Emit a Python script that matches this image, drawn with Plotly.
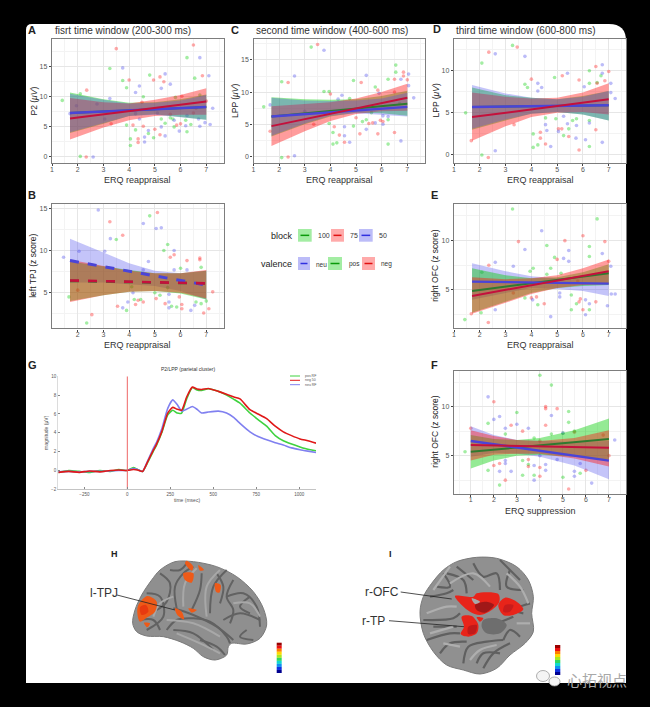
import plotly.graph_objects as go

W, H = 650, 707
REAPP_LINE = [1.7, 7.0]
REAPP_BAND = [1.7, 3, 4, 5, 6, 7]
SUPP_LINE = [1.0, 7.0]
SUPP_BAND = [1, 2, 3, 4, 5.5, 7]

# ---------- scatter values ----------
A_green = [(1.4,9.3),(2.1,0),(2.1,10.4),(3.25,14.6),(3.75,12.6),(3.9,11.4),(3.9,5.2),(4.05,2.9),(4.05,1.8),(4.25,4.4),(4.55,9.9),(4.8,13.5),(4.75,3.8),(4.95,3.1),(5.4,5.5),(5.25,6.2),(5.6,6.4),(5.75,4.9),(5.8,9.8),(6.25,16.4),(6.25,4.1),(6.4,5.3),(6.55,13),(6.75,10.2),(6.2,6),(5.7,6.2)]
A_red = [(2.35,11),(2.33,-0.1),(3.5,17.9),(3.3,5.4),(4.0,12.7),(4.15,5.2),(4.35,2.9),(4.35,2.3),(4.55,5),(5.0,4.5),(5.2,3.6),(5.2,13.2),(5.35,12.4),(4.95,12.7),(5.85,5.2),(6.0,5.4),(6.05,10),(6.5,18.5),(6.85,13.4),(6.5,7.2),(4.5,9),(5.6,7),(7,9.2),(6.6,8)]
A_blue = [(1.7,7.1),(1.95,8.4),(2.6,-0.1),(2.75,8.7),(3.25,9.6),(3.75,14.7),(3.05,6.2),(4.25,10.6),(4.4,11.7),(4.25,7.1),(4.4,6.2),(4.6,3.2),(4.6,2.4),(4.75,4.3),(5.1,7.2),(5.25,11.3),(5.4,13.7),(5.6,12),(5.25,4.9),(5.4,3.4),(5.75,6),(5.95,4.2),(6.25,6.8),(6.7,6.2),(6.75,5),(6.75,16.4),(7.1,13.4),(6.95,5.6),(7.15,5.3),(7.25,8),(6.2,5.1)]

C_green = [(1.4,7.7),(2.1,-0.2),(2.1,11.6),(3.25,17),(3.75,10.1),(3.95,10.1),(3.95,5.1),(4.1,1.9),(4.1,3.7),(4.25,2.1),(4.75,9),(4.9,4.7),(4.9,11.8),(5.25,5.4),(5.4,5.7),(5.6,6.8),(5.75,10.8),(6.25,1.9),(6.25,5.7),(6.25,12),(6.55,13.1),(6.55,14.2),(6.7,8.2)]
C_red = [(1.65,3.9),(2.35,-0.1),(2.35,11.5),(3.5,17.4),(3.35,5),(4.0,9.7),(4.15,4.6),(4.35,3.3),(4.55,2.2),(5,6),(5.15,3.5),(5.2,11.5),(5.5,5.1),(5.65,5.2),(5.85,3.5),(5.85,10.3),(5.95,5.6),(6.05,5.4),(6.5,3.7),(6.5,12),(6.85,12.5),(6.85,13.1),(7,11.9),(6.5,10)]
C_blue = [(1.65,8),(2.6,0.1),(2.6,12.5),(3.75,16.5),(4.3,8.9),(4.45,9.5),(4.55,4.6),(4.55,3.2),(4.75,2.2),(5.4,12.6),(5.4,4.2),(5.75,5.2),(6.05,6.3),(6.05,5),(6.25,6.2),(6.75,2.4),(6.75,12),(7.05,12.8),(7.05,11),(7.25,9.1),(3,7),(5.9,9.8)]

D_green = [(1.45,5),(2.08,10.9),(2.08,0),(3.27,13),(3.75,8.4),(3.85,8),(4.07,2.5),(4.07,0.9),(4.25,1.2),(4.55,4.4),(4.9,9.2),(4.95,4.3),(5.25,2.3),(5.45,3.1),(5.6,4.1),(5.75,4.3),(6.25,10),(6.25,8.5),(6.25,1),(6.55,8.6),(6.7,9.4),(6.25,4.1)]
D_red = [(1.67,1.7),(2.35,12.2),(2.33,-0.3),(3.45,12.8),(3.33,3.6),(4.0,9),(4.35,2.7),(4.35,2),(4.55,1.3),(5.05,3.1),(5.18,3.1),(5.2,9.4),(5.45,2.2),(5.85,0.6),(5.85,8.9),(6.5,3),(6.5,10.5),(6.55,8.5),(6.85,8.8),(7,9.9)]
D_blue = [(2.6,12),(2.6,0.5),(3.75,11.7),(4.25,8.5),(4.25,7.6),(4.4,8),(4.55,3.6),(4.6,2.9),(4.75,1),(5.05,2.8),(5.25,4.6),(5.4,9.7),(5.4,3.7),(5.75,3.5),(5.73,2),(6.1,1.8),(6.05,8.1),(6.25,3.8),(6.75,10.7),(6.75,9.7),(6.75,1.5),(7.08,8.5),(7.08,7.4),(7.25,6.7)]

B_green = [(1.66,4.5),(2.35,1.4),(3.5,11.3),(3.9,2.9),(4.2,4.2),(4.45,4.2),(4.8,14.1),(5,5),(5.2,4.7),(5.35,10),(5.5,10.7),(5.65,3.4),(5.85,3.3),(6,7.9),(6.6,3.9),(6.8,8),(7.0,4),(6.8,3.7),(4.1,5.7),(5.5,5.6)]
B_red = [(2.55,2.4),(3.25,13.4),(3.55,3.4),(3.75,11.8),(4.25,3.6),(4.35,4.1),(4.55,3.9),(5.05,4.3),(5.1,14.5),(5.4,3.7),(5.6,9.2),(5.75,9.5),(5.95,4.5),(6.05,3.6),(6.05,3.1),(6.25,8.8),(6.75,9.1),(6.75,8.9),(6.9,2.6),(7.1,3.1),(7.25,5.1),(2,5.3)]
B_blue = [(1.45,9.2),(2.05,9.9),(2.8,14.8),(3.27,11.4),(3.05,9.9),(3.75,3.2),(3.95,3.9),(4.15,5),(4.55,13.2),(4.55,7.7),(4.75,8.7),(5.05,12.6),(5.25,12.7),(5.55,4.8),(5.55,3.9),(5.55,3.2),(5.75,10),(5.75,7.7),(6.25,7.7),(6.4,2.9),(6.55,3.5)]

E_green = [(1.42,2),(2.08,6.8),(2.05,2.7),(3.27,13.2),(3.75,4.2),(3.95,6.9),(4.07,7.2),(4.25,3.5),(4.6,6.6),(4.6,9.5),(4.75,7.2),(4.9,8.3),(5.15,6.7),(5.55,4.5),(5.55,3),(5.75,3.6),(6.25,9.4),(6.25,8.4),(6.25,3),(6.55,12.2)]
E_red = [(1.67,2.6),(2.35,7.5),(2.33,1.7),(3.5,9.9),(3.3,4.7),(4,4.2),(4.2,4.3),(4.5,3.6),(5,8.1),(5.3,10),(5.85,3.8),(5.9,4.1),(6,10.5),(6,3),(6.5,3.8),(6.85,9.9),(7,7.9),(5.8,5.9)]
E_blue = [(2.6,7.8),(2.6,3),(3.3,7.4),(3.75,9.1),(4.05,4),(4.4,11),(4.75,2.3),(5.1,4.7),(5.1,4.3),(5.25,8.2),(5.45,7.9),(5.45,9),(6.1,2.5),(6.1,4),(6.25,3.6),(6.75,8.7),(6.95,3.4),(7.08,7.4),(7.1,4.6),(7.25,4.6)]

F_green = [(0.75,5.4),(1.75,3.5),(1.75,8.3),(2.25,2),(2.5,7.2),(3,9.4),(3.25,4.5),(3.25,3),(3.5,4.1),(3.75,3),(3.75,6.8),(4,13.2),(4.5,12.2),(4.5,7.2),(5,2.8),(5,7.3),(5.25,9.5),(5.25,8.4),(5.75,3.2),(5.5,7.5)]
F_red = [(1,7.8),(2,10.5),(2,4),(2.25,4.2),(2.5,2.5),(2.75,8.1),(3.25,7.5),(3.5,3.9),(3.5,4.6),(4,3.8),(4,2.9),(4,6.5),(4.25,10),(4.25,9.8),(4.25,8.1),(4.75,9.8),(5.25,1.6),(5.5,7.4),(6,3.5),(7,5),(6.75,7.1)]
F_blue = [(1.75,11),(2,8.7),(2.25,9),(2.25,3.4),(2.5,7.8),(2.5,4.5),(2.5,4.2),(2.75,3.4),(3,8.2),(3.5,7.8),(3.75,4),(3.75,2.5),(4,5),(4.25,4.1),(4.25,3.5),(4.5,9.1),(4.75,4.6),(5,7.3),(5.5,3.4),(5.5,2.9),(5.75,4.2),(6.25,2.2),(7.25,6.6)]

# ---------- regression lines (ends) and confidence bands ----------
A_green_line, A_red_line, A_blue_line = [7.2,8.2], [6.3,9.1], [7.2,8.2]
A_green_up, A_green_lo = [10.6,9.5,8.9,9.0,9.5,10.3], [3.9,5.4,6.7,7.0,6.6,6.1]
A_red_up, A_red_lo = [9.7,9.0,8.8,9.4,10.2,11.3], [2.8,4.8,6.0,6.7,6.9,6.9]
A_blue_up, A_blue_lo = [10.4,9.4,8.8,8.9,9.3,10.2], [4.0,5.5,6.7,6.9,6.5,6.1]

C_green_line, C_red_line, C_blue_line = [6.2,8.2], [4.7,9.1], [6.2,7.7]
C_green_up, C_green_lo = [9.2,8.9,8.8,8.9,9.4,10.2], [3.1,5.0,6.2,6.8,6.7,6.3]
C_red_up, C_red_lo = [7.8,8.1,8.4,9.0,10,11.3], [1.6,3.9,5.5,6.6,7.0,7.1]
C_blue_up, C_blue_lo = [9.1,8.7,8.6,8.7,9.0,9.9], [3.2,5.1,6.3,6.7,6.5,6.2]

D_green_line, D_red_line, D_blue_line = [5.7,5.9], [4.5,6.6], [5.7,5.9]
D_green_up, D_green_lo = [8,7.1,6.8,6.6,7.0,7.6], [3.0,4.1,4.9,5.1,4.8,4.1]
D_red_up, D_red_lo = [7.4,6.9,6.7,6.8,7.4,8.5], [1.7,3.4,4.5,5.0,5.1,4.8]
D_blue_up, D_blue_lo = [8.3,7.3,6.8,6.6,6.9,7.6], [3.1,4.2,4.9,5.1,4.8,4.1]

B_green_line, B_red_line, B_blue_line = [6.4,6.1], [6.45,6.1], [8.8,5.9]
B_green_up, B_green_lo = [8.7,8.1,7.7,7.3,7.3,7.6], [4.0,4.7,5.1,5.2,4.9,4.2]
B_red_up, B_red_lo = [8.9,8.2,7.6,7.3,7.3,7.7], [3.9,4.7,5.1,5.2,5.0,4.3]
B_blue_up, B_blue_lo = [11.4,9.8,8.5,7.6,7.3,7.6], [6.2,6.2,6.0,5.8,5.2,4.2]

E_green_line, E_red_line, E_blue_line = [4.9,6.7], [4.4,6.9], [5.85,5.65]
E_green_up, E_green_lo = [7.2,6.5,6.2,6.3,6.8,7.6], [2.7,3.8,4.7,5.2,5.4,5.5]
E_red_up, E_red_lo = [6.3,6.1,6.2,6.5,7.2,8.1], [2.6,3.7,4.6,5.2,5.5,5.6]
E_blue_up, E_blue_lo = [7.7,6.9,6.4,6.2,6.3,6.9], [4.0,4.7,5.2,5.1,4.9,4.4]

F_green_line, F_red_line, F_blue_line = [5.4,6.7], [6.1,5.8], [6.5,4.5]
F_green_up, F_green_lo = [7.1,6.7,6.6,6.8,7.6,8.8], [3.7,4.5,5.0,5.1,4.9,4.6]
F_red_up, F_red_lo = [7.6,7.0,6.6,6.5,6.8,7.6], [4.5,5.1,5.2,5.2,4.7,3.9]
F_blue_up, F_blue_lo = [8.0,7.1,6.6,6.5,6.4,6.5], [4.9,5.3,5.2,4.9,4.0,2.6]

# ---------- ERP curves (panel G) ----------
G_t = [-400,-340,-280,-220,-160,-100,-50,0,35,60,89,120,150,170,200,235,264,290,316,345,378,405,432,471,529,577,620,655,713,760,810,860,907,955,1004,1050,1097]
G_green = [-0.2,-0.02,-0.1,-0.2,0,-0.1,0.1,0,0.3,0.1,-0.1,0.9,2.0,2.7,4.0,5.9,6.4,6.1,6.1,7.6,8.8,8.55,8.5,8.67,8.4,8.0,7.55,7.15,6.1,5.4,4.7,3.7,3.15,2.8,2.5,2.25,2.1]
G_red = [-0.2,-0.1,-0.2,-0.05,-0.15,0,0.05,0,0.1,0.05,-0.1,1.0,2.1,2.8,4.1,6.1,6.7,6.5,6.4,7.8,8.85,8.65,8.6,8.7,8.4,8.1,7.8,7.6,6.45,6.0,5.5,4.7,4.1,3.7,3.35,3.15,2.9]
G_blue = [-0.15,-0.1,-0.15,-0.1,-0.1,-0.05,0,0,0.2,0.1,-0.1,1.1,2.3,3.0,4.4,6.6,7.5,7.0,6.3,6.5,6.8,6.5,6.1,6.2,6.3,6.1,5.6,5.0,4.1,3.6,3.25,2.95,2.7,2.4,2.2,2.05,1.9]

GREEN, RED, BLUE = "0,205,0", "255,20,20", "70,70,235"
BLOCK_LINE = {"g": "#2f7a2f", "r": "#c4103c", "b": "#4a44d8"}
BAND_ALPHA = {GREEN: 0.42, RED: 0.42, BLUE: 0.32}

def xdom(a, b): return [a / W, b / W]
def ydom(a, b): return [1 - b / H, 1 - a / H]
def px(x): return x / W
def py(y): return 1 - y / H

fig = go.Figure()
shapes, annos = [], []
layout = {}

AXIS_TEXT = dict(size=7, color="#555555", family="Liberation Sans")

def text(x, y, s, size=8, color="#222", xa="center", bold=False, fam="Liberation Sans", angle=0):
    annos.append(dict(x=px(x), y=py(y), xref="paper", yref="paper", text=f"<b>{s}</b>" if bold else s, showarrow=False,
                      xanchor=xa, yanchor="middle", textangle=angle, font=dict(size=size, color=color, family=fam)))

def panel(n, box, xr, yr, xticks, yticks, xtitle, ytitle, sets, xband=REAPP_BAND, xline=REAPP_LINE):
    xa, ya = f"x{n}", f"y{n}"
    for pts, col in sets["pts"]:
        fig.add_trace(go.Scatter(x=[p[0] for p in pts], y=[p[1] for p in pts], mode="markers", xaxis=xa, yaxis=ya,
                                 marker=dict(size=3.6, color=f"rgba({col},0.36)"), showlegend=False, hoverinfo="skip"))
    for up, lo, col in sets["bands"]:
        fig.add_trace(go.Scatter(x=list(xband) + list(xband)[::-1], y=list(up) + list(lo)[::-1], mode="lines", xaxis=xa, yaxis=ya,
                                 fill="toself", fillcolor=f"rgba({col},{BAND_ALPHA[col]})", line=dict(width=0),
                                 showlegend=False, hoverinfo="skip"))
    for vals, col, w, d in sets["lines"]:
        fig.add_trace(go.Scatter(x=xline, y=vals, mode="lines", xaxis=xa, yaxis=ya,
                                 line=dict(color=col, width=w, dash=d), showlegend=False, hoverinfo="skip"))
    layout[f"xaxis{n}"] = dict(domain=xdom(box[0], box[1]), range=xr, anchor=ya, tickvals=xticks, ticks="outside", ticklen=2,
                               ticklabelstandoff=-3,
                               tickcolor="#444", tickwidth=1, tickfont=AXIS_TEXT, gridcolor="#e6e6e6", gridwidth=0.8,
                               zeroline=False, showline=True, linecolor="#7d7d7d", linewidth=1.4, mirror=True,
                               minor=dict(showgrid=True, gridcolor="#f3f3f3", gridwidth=0.5, dtick=0.5))
    layout[f"yaxis{n}"] = dict(domain=ydom(box[2], box[3]), range=yr, anchor=xa, tickvals=yticks, ticks="outside", ticklen=2,
                               tickcolor="#444", tickwidth=1, tickfont=AXIS_TEXT, gridcolor="#e6e6e6", gridwidth=0.8,
                               zeroline=False, showline=True, linecolor="#7d7d7d", linewidth=1.4, mirror=True,
                               minor=dict(showgrid=True, gridcolor="#f3f3f3", gridwidth=0.5, dtick=2.5))
    text((box[0] + box[1]) / 2, box[3] + 17, xtitle, 9, "#333")
    text(box[0] - 18.5, (box[2] + box[3]) / 2, ytitle, 8.5, "#222", angle=-90)

def sets3(gp, rp, bp, gu, gl, ru, rl, bu, bl, gline, rline, bline, dash="solid", w=2, blue_first=False):
    g, r, b = (gu, gl, GREEN), (ru, rl, RED), (bu, bl, BLUE)
    return dict(pts=[(gp, GREEN), (rp, RED), (bp, BLUE)],
                bands=[b, g, r] if blue_first else [g, r, b],
                lines=[(gline, BLOCK_LINE["g"], w, dash), (bline, BLOCK_LINE["b"], w + 0.4, dash), (rline, BLOCK_LINE["r"], w, dash)])

ERQ = "ERQ reappraisal"
panel(2, (52, 223.5, 39, 163), [1, 7.67], [-1.1, 19.5], [1,2,3,4,5,6,7], [0,5,10,15], ERQ, "P2 (<i>μV</i>)",
      sets3(A_green, A_red, A_blue, A_green_up, A_green_lo, A_red_up, A_red_lo, A_blue_up, A_blue_lo, A_green_line, A_red_line, A_blue_line))
panel(3, (253.5, 424.5, 39, 163), [1, 7.67], [-1.04, 18.26], [1,2,3,4,5,6,7], [0,5,10,15], ERQ, "LPP (<i>μV</i>)",
      sets3(C_green, C_red, C_blue, C_green_up, C_green_lo, C_red_up, C_red_lo, C_blue_up, C_blue_lo, C_green_line, C_red_line, C_blue_line))
panel(4, (454, 626, 39, 163), [1, 7.67], [-0.95, 13.76], [1,2,3,4,5,6,7], [0,5,10], ERQ, "LPP (<i>μV</i>)",
      sets3(D_green, D_red, D_blue, D_green_up, D_green_lo, D_red_up, D_red_lo, D_blue_up, D_blue_lo, D_green_line, D_red_line, D_blue_line))
panel(5, (52, 223.5, 204.3, 328.3), [1, 7.67], [0.78, 15.47], [2,3,4,5,6,7], [5,10,15], ERQ, "left TPJ (z score)",
      sets3(B_green, B_red, B_blue, B_green_up, B_green_lo, B_red_up, B_red_lo, B_blue_up, B_blue_lo, B_green_line, B_red_line, B_blue_line, dash="dash", w=2.6, blue_first=True))
panel(6, (454, 626, 204.3, 328.3), [1, 7.67], [1.12, 13.68], [1,2,3,4,5,6,7], [5,10], ERQ, "right OFC (z score)",
      sets3(E_green, E_red, E_blue, E_green_up, E_green_lo, E_red_up, E_red_lo, E_blue_up, E_blue_lo, E_green_line, E_red_line, E_blue_line, blue_first=True))
panel(7, (454, 626, 370.7, 493.7), [0.27, 7.74], [1.12, 13.67], [1,2,3,4,5,6,7], [5,10], "ERQ suppression", "right OFC (z score)",
      sets3(F_green, F_red, F_blue, F_green_up, F_green_lo, F_red_up, F_red_lo, F_blue_up, F_blue_lo, F_green_line, F_red_line, F_blue_line, blue_first=True),
      xband=SUPP_BAND, xline=SUPP_LINE)

# ---------- panel G ----------
for vals, col, name in [(G_green, "#3fd23f", "pos RF"), (G_blue, "#8080f0", "neu RF"), (G_red, "#e01818", "neg 50")]:
    fig.add_trace(go.Scatter(x=G_t, y=vals, mode="lines", xaxis="x8", yaxis="y8", name=name,
                             line=dict(color=col, width=1.6, shape="spline", smoothing=0.5), showlegend=False, hoverinfo="skip"))
fig.add_trace(go.Scatter(x=[0, 0], y=[-2, 10], mode="lines", xaxis="x8", yaxis="y8", line=dict(color="#ee6666", width=1),
                         showlegend=False, hoverinfo="skip"))
G_TICK = dict(size=4.5, color="#555", family="Liberation Sans")
layout["xaxis8"] = dict(domain=xdom(58, 316), range=[-403, 1097], anchor="y8", tickvals=[-250,0,250,500,750,1000], ticks="inside",
                        ticklen=2, tickcolor="#888", tickfont=G_TICK, showgrid=False, zeroline=False, showline=True, linecolor="#c4c4c4",
                        linewidth=0.8, title=dict(text="time (msec)", font=dict(size=5, color="#555", family="Liberation Sans"), standoff=2))
layout["yaxis8"] = dict(domain=ydom(376.3, 489.3), range=[-2, 10], anchor="x8", tickvals=[-2,0,2,4,6,8,10], ticks="inside",
                        ticklen=2, tickcolor="#888", tickfont=G_TICK, showgrid=False, zeroline=False, showline=True, linecolor="#dcdcdc",
                        linewidth=0.8, title=dict(text="magnitude (μV)", font=dict(size=5, color="#555", family="Liberation Sans"), standoff=2))

text(188, 369, "P2/LPP (parietal cluster)", 5, "#333")
text(303, 375.5, "pos RF", 3.5, "#555", "left"); text(303, 380.3, "neg 50", 3.5, "#555", "left"); text(303, 385.1, "neu RF", 3.5, "#555", "left")
for ly, lc in [(376, "#3fd23f"), (380.3, "#e01818"), (384.7, "#8080f0")]:
    shapes.append(dict(type="line", xref="paper", yref="paper", x0=px(290), x1=px(300), y0=py(ly), y1=py(ly), line=dict(color=lc, width=1)))

# ---------- titles / panel letters ----------
text(52.5, 30, "fisrt time window (200-300 ms)", 10, "#333", "left")
text(253.5, 30, "second time window (400-600 ms)", 10, "#333", "left")
text(454, 30, "third time window (600-800 ms)", 10, "#333", "left")
for lx, ly, s in [(32, 30, "A"), (235, 30, "C"), (437, 29, "D"), (32, 195, "B"), (435, 195, "E"), (435, 365, "F"), (32, 365, "G")]:
    text(lx, ly, s, 11, "#222", bold=True)
text(114, 554, "H", 9, "#222", bold=True); text(390.5, 554, "I", 9, "#222", bold=True)

# ---------- hand-made legend ----------
LEGEND_BLOCK = ["100", "75", "50"]
LEGEND_VALENCE = ["neu", "pos", "neg"]
def key(x0, x1, y0, y1, col, lc):
    shapes.append(dict(type="rect", xref="paper", yref="paper", x0=px(x0), x1=px(x1), y0=py(y1), y1=py(y0),
                       fillcolor=f"rgba({col},0.36)", line=dict(width=0)))
    shapes.append(dict(type="line", xref="paper", yref="paper", x0=px(x0 + 2.5), x1=px(x1 - 2.5), y0=py((y0 + y1) / 2), y1=py((y0 + y1) / 2),
                       line=dict(color=lc, width=1.5)))
text(295, 235.7, "block", 9, "#222", "right"); text(294, 264, "valence", 9, "#222", "right")
key(298, 311.7, 229, 241.7, GREEN, "#0a9a0a"); text(315.5, 235.7, LEGEND_BLOCK[0], 7, "#333", "left")
key(331, 344, 229, 241.7, RED, "#e01010"); text(348, 235.7, LEGEND_BLOCK[1], 7, "#333", "left")
key(359, 372.7, 229, 241.7, BLUE, "#3030e0"); text(377, 235.7, LEGEND_BLOCK[2], 7, "#333", "left")
key(298, 310, 257, 270, BLUE, "#3030e0"); text(314, 264, LEGEND_VALENCE[0], 6.5, "#333", "left")
key(328, 342, 257, 270, GREEN, "#0a9a0a"); text(347, 264, LEGEND_VALENCE[1], 6.5, "#333", "left")
key(362, 375, 257, 270, RED, "#e01010"); text(379, 264, LEGEND_VALENCE[2], 6.5, "#333", "left")

# ---------- drawn brain illustrations on a pixel-scale overlay axis ----------
layout["xaxis"] = dict(domain=[0, 1], range=[0, W], anchor="y", visible=False)
layout["yaxis"] = dict(domain=[0, 1], range=[H, 0], anchor="x", visible=False)

def zoomed(pts, ox, oy):
    return [ox + p[0] / 3 for p in pts], [oy + p[1] / 3 for p in pts]

def blob(pts, ox, oy, color, edge=None):
    xs, ys = zoomed(pts + pts[:1], ox, oy)
    fig.add_trace(go.Scatter(x=xs, y=ys, mode="lines", xaxis="x", yaxis="y", fill="toself", fillcolor=color,
                             line=dict(width=1 if edge else 0, color=edge or color, shape="spline", smoothing=0.9), showlegend=False, hoverinfo="skip"))

def stroke(pts, ox, oy, color, w):
    xs, ys = zoomed(pts, ox, oy)
    fig.add_trace(go.Scatter(x=xs, y=ys, mode="lines", xaxis="x", yaxis="y",
                             line=dict(width=w, color=color, shape="spline", smoothing=1), showlegend=False, hoverinfo="skip"))

HOX, HOY = 60, 530
H_OUT = [(218,280),(225,240),(245,195),(275,150),(300,120),(345,95),(400,95),(470,110),(530,140),(580,185),(610,235),(620,285),(600,325),(560,342),(515,340),(505,350),(500,375),(465,390),(430,380),(400,355),(360,335),(310,320),(260,318),(230,305)]
blob(H_OUT, HOX, HOY, "#8f8f8f", "#7a7a7a")
H_SULCI = [[(320,300),(350,270),(400,265),(450,275),(500,320),(510,340)],
           [(340,235),(400,255),(470,290),(520,330)],
           [(350,235),(345,170),(370,130),(400,110)],
           [(395,240),(420,180),(425,130)],
           [(450,250),(460,170),(500,120)],
           [(300,130),(330,160),(320,215),(290,240)],
           [(260,190),(300,200),(310,260),(260,300)],
           [(500,200),(550,190),(590,230),(600,290)],
           [(490,270),(540,250),(600,270)],
           [(520,150),(500,200),(520,240),(510,280)],
           [(340,300),(400,310),(460,360)],
           [(420,330),(470,350),(495,375)],
           [(560,300),(540,320),(580,330)],
           [(570,200),(540,230),(570,250)],[(240,270),(280,270),(300,300)],[(330,120),(360,120),(380,100)],[(470,130),(490,170),(480,220)]]
H_GYRI = [[(370,230),(375,160),(410,115)],[(320,270),(400,280),(480,320)],[(440,260),(440,170),(480,120)],[(280,260),(300,220),(340,200)],[(520,220),(570,220),(600,260)],[(350,310),(420,340),(480,370)]]
for s in H_SULCI: stroke(s, HOX, HOY, "#626262", 2)
for s in H_GYRI: stroke(s, HOX, HOY, "#a8a8a8", 2)
for b in [[(235,225),(262,198),(290,215),(285,245),(262,262),(240,275),(232,250)],[(252,278),(270,280),(262,292)],
          [(345,235),(365,245),(372,268),(352,255)],[(370,130),(400,130),(395,158),(375,150)],[(380,92),(400,110),(395,122),(375,100)],
          [(465,160),(482,165),(478,188),(468,185)],[(415,105),(432,120),(420,122)],[(385,235),(410,240),(395,248)]]:
    blob(b, HOX, HOY, "#ee5a18")
blob([(240,232),(258,225),(265,245),(245,255)], HOX, HOY, "#e83a10")

IOX, IOY = 340, 530
I_OUT = [(240,245),(250,200),(275,160),(310,120),(350,95),(410,82),(470,85),(530,110),(565,150),(580,200),(575,250),(580,305),(555,340),(510,375),(470,415),(420,432),(370,420),(320,405),(280,365),(250,310)]
blob(I_OUT, IOX, IOY, "#909090", "#7a7a7a")
I_SULCI = [[(320,130),(370,150),(380,190)],[(400,100),(430,140),(470,130),(480,180)],[(510,120),(500,170),(550,180)],
           [(270,200),(320,190),(340,180)],[(250,270),(340,265),(360,250)],[(260,330),(330,310),(360,310)],
           [(300,370),(330,340),(380,335)],[(370,400),(385,350),(440,335),(490,330)],[(430,415),(460,370),(510,340)],
           [(520,260),(470,280),(430,290)],[(540,320),(510,300),(490,330)],[(480,90),(540,150)],
           [(290,170),(330,170),(310,130)],[(280,290),(320,290),(350,290)],[(410,400),(430,370),(480,370)],[(350,110),(400,150)],[(550,250),(520,240),(570,220)]]
I_GYRI = [[(330,160),(400,130),(450,170)],[(500,130),(540,170),(565,220)],[(260,250),(320,230),(350,230)],[(270,310),(340,290)],[(390,390),(420,360),(470,345)],[(530,280),(570,280)],[(310,340),(360,350)],[(280,180),(330,110)]]
for s in I_SULCI: stroke(s, IOX, IOY, "#606060", 2.2)
for s in I_GYRI: stroke(s, IOX, IOY, "#aeaeae", 2.2)
blob([(430,270),(470,265),(500,285),(480,310),(440,310),(425,290)], IOX, IOY, "#6e6e6e")
for b in [[(345,198),(400,200),(410,190),(475,192),(478,215),(455,240),(420,255),(390,245),(365,225)],
          [(475,225),(495,203),(530,215),(550,238),(520,255),(490,255)],
          [(365,260),(395,258),(415,285),(410,310),(385,320),(362,312),(372,290)],[(410,262),(430,265),(420,275)]]:
    blob(b, IOX, IOY, "#e8241a")
blob([(405,225),(440,215),(462,225),(435,248),(410,240)], IOX, IOY, "#a01818")
blob([(495,225),(520,225),(510,245),(490,245)], IOX, IOY, "#c81c1c")
blob([(385,290),(410,285),(405,310),(385,312)], IOX, IOY, "#c01a1a")
blob([(395,205),(420,215),(405,222)], IOX, IOY, "#a8a8a8")

# ---------- labels and leader lines ----------
LEADERS = [([117, 175], [595, 610]), ([400.7, 451.7], [592, 599]), ([389, 464], [620.7, 626.7])]
for lx, ly in LEADERS:
    fig.add_trace(go.Scatter(x=lx, y=ly, mode="lines", xaxis="x", yaxis="y", line=dict(color="#222", width=0.8), showlegend=False, hoverinfo="skip"))
text(88, 593, "l-TPJ", 12, "#333", "left"); text(362.5, 591.7, "r-OFC", 12, "#333", "left"); text(360, 620.7, "r-TP", 12, "#333", "left")

# ---------- small colour bars ----------
BAR_COLOURS = ["#9a0000","#ee1010","#ff7a00","#ffd800","#a8e820","#30d860","#10d8d0","#1090f0","#1030e0","#000090"]
for x0, x1, y0, y1 in [(276.7, 281.7, 642.7, 673), (555, 560.3, 645, 675)]:
    step = (y1 - y0) / len(BAR_COLOURS)
    for i, c in enumerate(BAR_COLOURS):
        shapes.append(dict(type="rect", xref="paper", yref="paper", x0=px(x0), x1=px(x1), y0=py(y0 + i * step), y1=py(y0 + (i + 1) * step),
                           fillcolor=c, line=dict(width=0), layer="above"))

# ---------- white card ----------
L, T, R, B = 26, 24, 626, 683
corner = [(L+6,T),(R-17,T),(R,T),(R,T+17),(R,B),(L,B),(L,T+6),(L,T),(L+6,T)]
c = [f"{px(a):.5f} {py(b):.5f}" for a, b in corner]
card = f"M {c[0]} L {c[1]} Q {c[2]} {c[3]} L {c[4]} L {c[5]} L {c[6]} Q {c[7]} {c[8]} Z"
shapes.insert(0, dict(type="path", xref="paper", yref="paper", layer="below", path=card, fillcolor="#ffffff", line=dict(width=0)))

# ---------- watermark ----------
for cx, cy, rx, ry in [(543, 676, 6.5, 5.5), (554.5, 681.5, 5.5, 4.5)]:
    shapes.append(dict(type="circle", xref="paper", yref="paper", x0=px(cx - rx), x1=px(cx + rx), y0=py(cy + ry), y1=py(cy - ry),
                       fillcolor="#f4f4f4", line=dict(color="#9a9a9a", width=0.8), layer="above"))
text(597, 679, "心拓视点", 15, "#a8a8a8", fam="Noto Sans CJK SC")

fig.update_layout(width=W, height=H, margin=dict(l=0, r=0, t=0, b=0, autoexpand=False), paper_bgcolor="#000000", plot_bgcolor="rgba(0,0,0,0)",
                  showlegend=False, shapes=shapes, annotations=annos, font=dict(family="Liberation Sans"), **layout)
fig.write_html("out.html", config={"displayModeBar": False}, post_script="document.body.style.margin='0';document.body.style.background='#000';")
